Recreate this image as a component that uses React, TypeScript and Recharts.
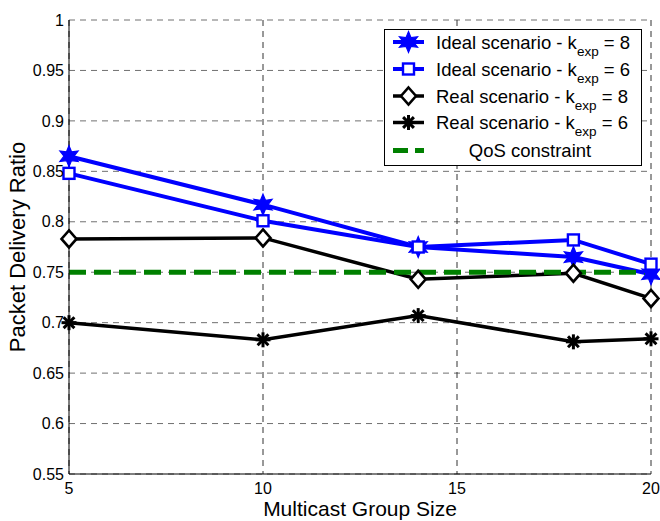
import React from 'react';
import { LineChart, Line, XAxis, YAxis, CartesianGrid, ReferenceLine, Legend } from 'recharts';

const groupSizes = [5, 10, 14, 18, 20];
const idealK8 = [0.865, 0.817, 0.775, 0.765, 0.748];
const idealK6 = [0.848, 0.801, 0.775, 0.782, 0.758];
const realK8 = [0.783, 0.784, 0.743, 0.749, 0.724];
const realK6 = [0.700, 0.683, 0.707, 0.681, 0.684];
const qosConstraint = 0.75;

const xTicks = [5, 10, 15, 20];
const yTicks = [0.55, 0.6, 0.65, 0.7, 0.75, 0.8, 0.85, 0.9, 0.95, 1];

const seriesNames = [
  { key: 'idealK8', scen: 'Ideal scenario - k', k: '8' },
  { key: 'idealK6', scen: 'Ideal scenario - k', k: '6' },
  { key: 'realK8', scen: 'Real scenario - k', k: '8' },
  { key: 'realK6', scen: 'Real scenario - k', k: '6' },
];

const data = groupSizes.map((x, i) => ({
  x,
  idealK8: idealK8[i],
  idealK6: idealK6[i],
  realK8: realK8[i],
  realK6: realK6[i],
}));

const BLUE = '#0000ff';
const BLACK = '#000000';
const GREEN = '#008000';
const FONT = '"Liberation Sans", Arial, Helvetica, sans-serif';

function hexagramPath(cx: number, cy: number, R: number) {
  const r = R * 0.48;
  const pts: string[] = [];
  for (let i = 0; i < 12; i++) {
    const a = (-90 + i * 30) * Math.PI / 180;
    const rad = i % 2 === 0 ? R : r;
    pts.push(`${cx + rad * Math.cos(a)},${cy + rad * Math.sin(a)}`);
  }
  return 'M' + pts.join('L') + 'Z';
}

function Marker({ type, cx, cy }: { type: string; cx: number; cy: number }) {
  if (cx == null || cy == null) return null;
  if (type === 'hex') {
    return <path d={hexagramPath(cx, cy, 10.5)} fill={BLUE} stroke={BLUE} strokeWidth={1.2} strokeLinejoin="miter" />;
  }
  if (type === 'square') {
    return <rect x={cx - 5.5} y={cy - 5.5} width={11} height={11} fill="#fff" stroke={BLUE} strokeWidth={2.4} />;
  }
  if (type === 'diamond') {
    return (
      <path d={`M${cx},${cy - 8.5}L${cx + 7.5},${cy}L${cx},${cy + 8.5}L${cx - 7.5},${cy}Z`} fill="#fff" stroke={BLACK} strokeWidth={2.6} />
    );
  }
  if (type === 'asterisk') {
    const r = 7.5;
    const d = r * 0.72;
    return (
      <g stroke={BLACK} strokeWidth={3}>
        <line x1={cx - r} y1={cy} x2={cx + r} y2={cy} />
        <line x1={cx} y1={cy - r} x2={cx} y2={cy + r} />
        <line x1={cx - d} y1={cy - d} x2={cx + d} y2={cy + d} />
        <line x1={cx - d} y1={cy + d} x2={cx + d} y2={cy - d} />
        <circle cx={cx} cy={cy} r={3.2} fill={BLACK} stroke="none" />
      </g>
    );
  }
  return null;
}

const markerTypes: Record<string, string> = {
  idealK8: 'hex',
  idealK6: 'square',
  realK8: 'diamond',
  realK6: 'asterisk',
};
const colors: Record<string, string> = {
  idealK8: BLUE,
  idealK6: BLUE,
  realK8: BLACK,
  realK6: BLACK,
};
const widths: Record<string, number> = {
  idealK8: 4,
  idealK6: 4,
  realK8: 3.5,
  realK6: 3.5,
};

function LegendBox() {
  const rowYs = [13, 40, 67, 93.5, 121.5];
  return (
    <svg width={258} height={137} style={{ display: 'block', fontFamily: FONT }}>
      <rect x={0.5} y={0.5} width={257} height={136} fill="#fff" stroke="#000" strokeWidth={1} />
      {seriesNames.map((s, i) => {
        const cy = rowYs[i];
        return (
          <g key={s.key}>
            <line x1={9} y1={cy} x2={40} y2={cy} stroke={colors[s.key]} strokeWidth={widths[s.key]} />
            <Marker type={markerTypes[s.key]} cx={24.5} cy={cy} />
            <text x={52} y={cy + 6.5} fontSize={18.5} fill="#000">
              {s.scen}
              <tspan dy={7} fontSize={13.5}>exp</tspan>
              <tspan dy={-7} fontSize={18.5}>{' = ' + s.k}</tspan>
            </text>
          </g>
        );
      })}
      <line x1={9} y1={rowYs[4]} x2={40} y2={rowYs[4]} stroke={GREEN} strokeWidth={5} strokeDasharray="15 7" />
      <text x={146} y={rowYs[4] + 6.5} fontSize={18.5} fill="#000" textAnchor="middle">QoS constraint</text>
    </svg>
  );
}

const fmtY = (v: number) => String(Number(v.toFixed(2)));

function YLabel() {
  const cx = 25;
  const cy = 20 + 454 / 2;
  return (
    <text
      x={cx}
      y={cy}
      transform={`rotate(-90, ${cx}, ${cy})`}
      textAnchor="middle"
      fontSize={22}
      fontFamily={FONT}
      fill="#000"
    >
      Packet Delivery Ratio
    </text>
  );
}

function XLabel(props: any) {
  const vb = props.viewBox || {};
  const cx = (vb.x ?? 69) + (vb.width ?? 582) / 2;
  return (
    <text x={cx} y={516} textAnchor="middle" fontSize={21} fontFamily={FONT} fill="#000">
      Multicast Group Size
    </text>
  );
}

export default function App() {
  return (
    <div style={{ position: 'absolute', left: 0, top: 0, width: 660, height: 521, background: '#fff' }}>
      <LineChart
        width={660}
        height={521}
        data={data}
        margin={{ top: 20, right: 9, bottom: 0, left: 0 }}
        style={{ fontFamily: FONT }}
      >
        <CartesianGrid horizontal={true} vertical={false} stroke="#707070" strokeDasharray="6 5" strokeWidth={1} />
        <CartesianGrid horizontal={false} vertical={true} stroke="#333" strokeDasharray="6 5" strokeWidth={1} />
        <XAxis
          dataKey="x"
          type="number"
          domain={[5, 20]}
          ticks={xTicks}
          height={47}
          tickLine={false}
          tickSize={0}
          tickMargin={9}
          axisLine={{ stroke: '#000', strokeWidth: 1 }}
          tick={{ fill: '#000', fontSize: 16, fontFamily: FONT }}
          label={<XLabel />}
        />
        <XAxis
          xAxisId="top"
          orientation="top"
          dataKey="x"
          type="number"
          domain={[5, 20]}
          height={0}
          tick={false}
          tickLine={false}
          axisLine={{ stroke: '#000', strokeWidth: 1 }}
        />
        <YAxis
          type="number"
          domain={[0.55, 1]}
          ticks={yTicks}
          width={69}
          tickLine={false}
          tickSize={0}
          tickMargin={5}
          tickFormatter={fmtY}
          axisLine={{ stroke: '#000', strokeWidth: 1 }}
          tick={{ fill: '#000', fontSize: 16, fontFamily: FONT }}
          label={<YLabel />}
        />
        <YAxis
          yAxisId="right"
          orientation="right"
          type="number"
          domain={[0.55, 1]}
          width={0}
          tick={false}
          tickLine={false}
          axisLine={{ stroke: '#000', strokeWidth: 1 }}
        />
        {seriesNames.map((s) => (
          <Line
            key={s.key}
            type="linear"
            dataKey={s.key}
            name={s.scen + 'exp = ' + s.k}
            stroke={colors[s.key]}
            strokeWidth={widths[s.key]}
            isAnimationActive={false}
            activeDot={false}
            dot={(p: any) => <Marker key={`${s.key}-${p.index}`} type={markerTypes[s.key]} cx={p.cx} cy={p.cy} />}
          />
        ))}
        <ReferenceLine y={qosConstraint} stroke={GREEN} strokeWidth={5} strokeDasharray="17 8" />
        <Legend
          layout="vertical"
          align="center"
          verticalAlign="middle"
          wrapperStyle={{ position: 'absolute', left: 384, top: 29, width: 258, height: 137 }}
          content={() => <LegendBox />}
        />
      </LineChart>
    </div>
  );
}
